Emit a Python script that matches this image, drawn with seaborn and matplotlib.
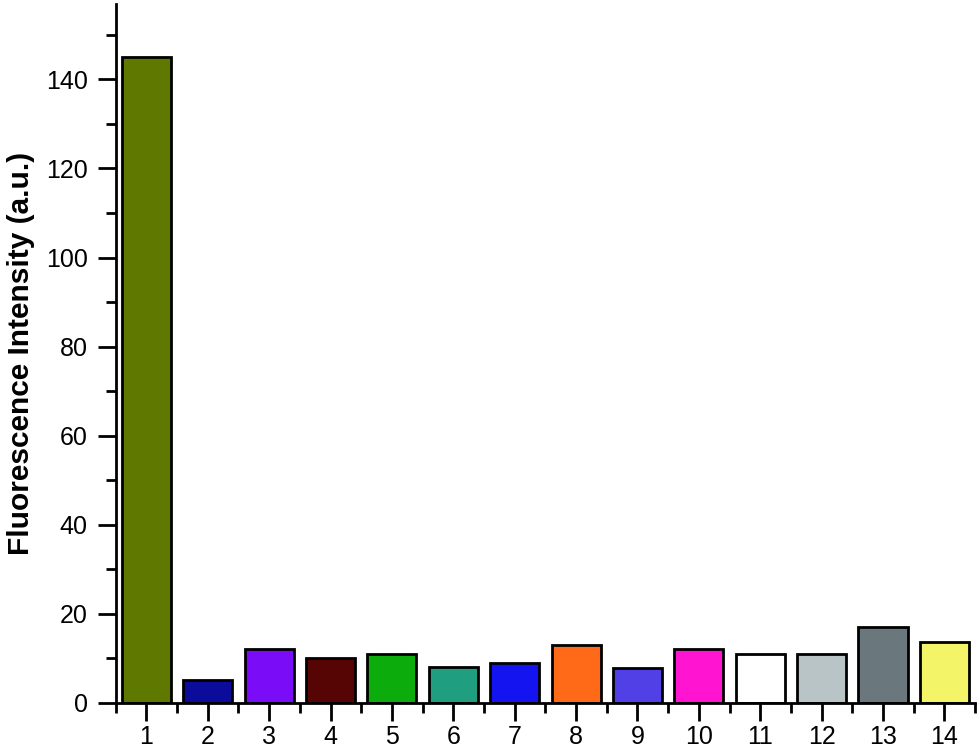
import pandas as pd
import numpy as np
import matplotlib
matplotlib.use('Agg')
import matplotlib.pyplot as plt
import seaborn as sns
from matplotlib.ticker import MultipleLocator, FixedLocator

# sample numbers and measured intensities
samples = [str(i) for i in range(1, 15)]
intensity = [145, 5, 12, 10, 11, 8, 9, 13, 7.8, 12, 11, 11, 17, 13.7]
bar_colors = ['#5f7800', '#0c0c9c', '#7a0cf8', '#560404', '#0cac0c', '#1f9e80',
              '#1414f0', '#ff6a18', '#5040e6', '#ff14d2', '#ffffff', '#b9c4c7',
              '#6a787e', '#f4f468']

df = pd.DataFrame({'Sample': samples, 'Intensity': intensity})

sns.set_style('ticks')
plt.rcParams['font.family'] = ['Liberation Sans', 'DejaVu Sans']
plt.rcParams.update({
    'xtick.major.size': 13, 'xtick.minor.size': 7,
    'ytick.major.size': 13, 'ytick.minor.size': 7,
    'xtick.major.width': 2, 'xtick.minor.width': 2,
    'ytick.major.width': 2, 'ytick.minor.width': 2,
    'xtick.major.pad': 3, 'ytick.major.pad': 7,
    'xtick.color': 'black', 'ytick.color': 'black',
})

fig = plt.figure(figsize=(9.8, 7.5), dpi=100)
ax = fig.add_axes([0.118, 0.063, 0.877, 0.932])

sns.barplot(data=df, x='Sample', y='Intensity', hue='Sample', palette=bar_colors,
            legend=False, width=0.8, edgecolor='black', linewidth=2,
            saturation=1, ax=ax)

ax.set_xlim(-0.5, 13.5)
ax.set_ylim(0, 157)
ax.set_xticks(range(len(samples)), samples)
ax.yaxis.set_major_locator(MultipleLocator(20))
ax.yaxis.set_minor_locator(MultipleLocator(10))
ax.xaxis.set_minor_locator(FixedLocator(np.arange(-0.5, 14, 1)))

ax.set_xlabel('')
ax.set_ylabel('Fluorescence Intensity (a.u.)', fontsize=21.5, fontweight='bold',
              color='black', labelpad=8)

sns.despine(ax=ax)
for s in ['left', 'bottom']:
    ax.spines[s].set_linewidth(2)
    ax.spines[s].set_color('black')
ax.tick_params(axis='both', which='major', direction='out', length=13, width=2,
               labelsize=18, labelcolor='black')
ax.tick_params(axis='both', which='minor', direction='out', length=7, width=2)

plt.savefig('out.png', dpi=100)
